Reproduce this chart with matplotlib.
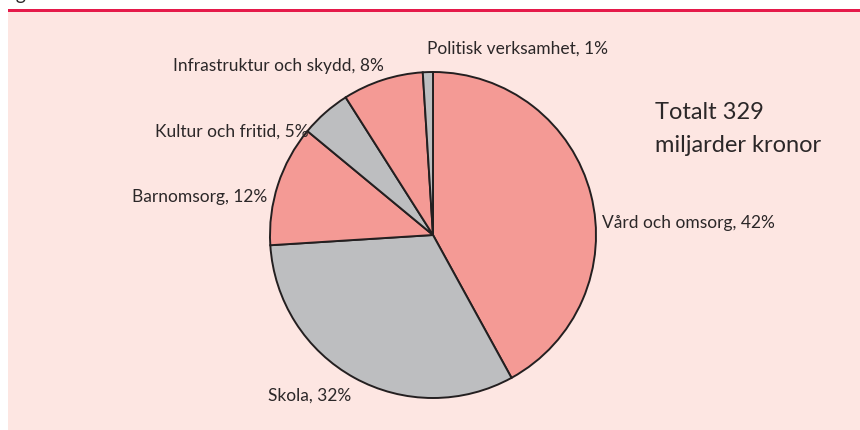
import matplotlib
matplotlib.use("Agg")
import matplotlib.pyplot as plt
from matplotlib.patches import Rectangle

# Kommunernas kostnader per verksamhet (andel i procent)
categories = ["Vård och omsorg", "Skola", "Barnomsorg", "Kultur och fritid",
              "Infrastruktur och skydd", "Politisk verksamhet"]
shares = [42, 32, 12, 5, 8, 1]
total_text = ["Totalt 329", "miljarder kronor"]

salmon = "#f49a95"
grey = "#bdbec0"
colors = [salmon, grey, salmon, grey, salmon, grey]
bg = "#fde6e2"
edge = "#231f20"
txt = "#2b2728"

plt.rcParams['font.family'] = ['Lato', 'DejaVu Sans']

W, H = 860, 431
fig = plt.figure(figsize=(W / 100, H / 100), dpi=100)
fig.patch.set_facecolor("white")


def fx(px):
    return px / W


def fy(py):
    return 1 - py / H


# pink panel and red rule on top
fig.patches.append(Rectangle((fx(8), 0), 1 - fx(8), fy(12), transform=fig.transFigure,
                             facecolor=bg, edgecolor="none", zorder=-2))
fig.patches.append(Rectangle((fx(8), fy(12.5)), 1 - fx(8), 3 / H, transform=fig.transFigure,
                             facecolor="#e5194a", edgecolor="none", zorder=-1))
# cut-off heading above the panel (only the descender shows)
fig.text(fx(0), fy(0), "Figur", fontsize=14, color=txt, va="baseline", ha="left")

# pie
cx, cy, r = 433, 236, 163
ax = fig.add_axes([fx(cx - r), fy(cy + r), 2 * r / W, 2 * r / H])
ax.set_zorder(2)
ax.patch.set_alpha(0)
ax.pie(shares, colors=colors, startangle=90, counterclock=False,
       wedgeprops=dict(edgecolor=edge, linewidth=1.4))
ax.set_xlim(-1, 1)
ax.set_ylim(-1, 1)
ax.set_aspect("equal")
ax.axis("off")

# labels
label_pos = {
    "Vård och omsorg": (602, 223, "left"),
    "Skola": (268, 396, "left"),
    "Barnomsorg": (267, 197, "right"),
    "Kultur och fritid": (309, 132, "right"),
    "Infrastruktur och skydd": (384, 66, "right"),
    "Politisk verksamhet": (427, 49, "left"),
}
for name, val in zip(categories, shares):
    x, y, ha = label_pos[name]
    fig.text(fx(x), fy(y), f"{name}, {val}%", fontsize=12.5, color=txt,
             ha=ha, va="center", zorder=3)

fig.text(fx(655), fy(113), total_text[0], fontsize=17, color=txt, va="center")
fig.text(fx(655), fy(146), total_text[1], fontsize=17, color=txt, va="center")

fig.savefig("out.png", dpi=100, facecolor=fig.get_facecolor())
